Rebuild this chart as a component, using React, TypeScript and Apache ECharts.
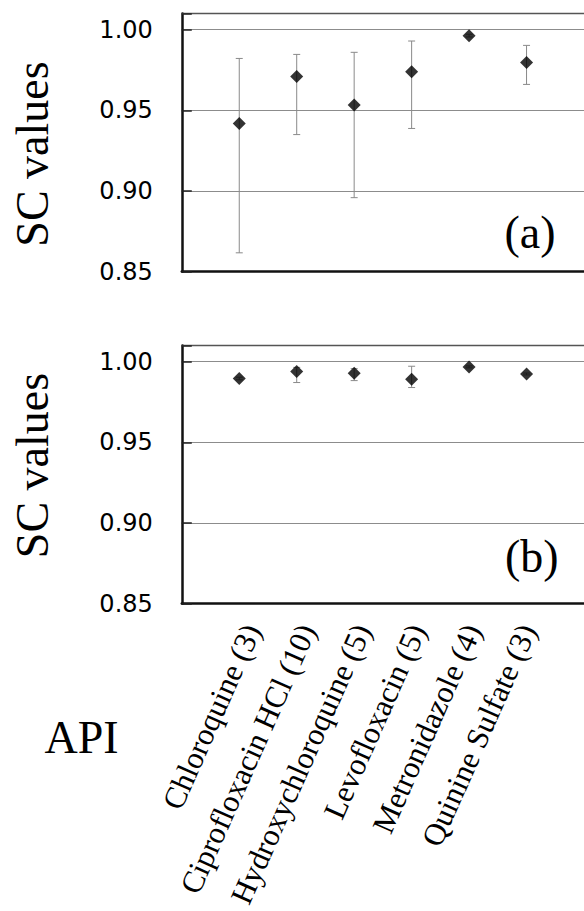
import React, { useEffect, useRef } from "react";
import * as echarts from "echarts";

const categories = [
  "Chloroquine (3)",
  "Ciprofloxacin HCl (10)",
  "Hydroxychloroquine (5)",
  "Levofloxacin (5)",
  "Metronidazole (4)",
  "Quinine Sulfate (3)",
];
const positions = [1, 2, 3, 4, 5, 6];

const scA = [0.9419, 0.971, 0.9534, 0.9739, 0.9963, 0.9797];
const lowA = [0.8617, 0.935, 0.8959, 0.9388, 0.9955, 0.9661];
const highA = [0.9822, 0.9847, 0.986, 0.993, 0.9972, 0.9903];

const scB = [0.9896, 0.9939, 0.9929, 0.9891, 0.9968, 0.9924];
const lowB = [0.9888, 0.9871, 0.9883, 0.984, 0.9962, 0.9918];
const highB = [0.9904, 0.9965, 0.9957, 0.9972, 0.9974, 0.993];

const yMin = 0.85;
const yMax = 1.01;
const yStep = 0.05;
const xMin = 0;
const xMax = 7;

const SERIF = "Liberation Serif";
const SANS = "DejaVu Sans";

function errorRender(params: any, api: any) {
  const x = api.value(0);
  const lo = api.coord([x, api.value(1)]);
  const hi = api.coord([x, api.value(2)]);
  const cw = 3.5;
  const style = { stroke: "#8a8a8a", lineWidth: 1 };
  return {
    type: "group",
    children: [
      { type: "line", shape: { x1: lo[0], y1: lo[1], x2: hi[0], y2: hi[1] }, style },
      { type: "line", shape: { x1: lo[0] - cw, y1: lo[1], x2: lo[0] + cw, y2: lo[1] }, style },
      { type: "line", shape: { x1: hi[0] - cw, y1: hi[1], x2: hi[0] + cw, y2: hi[1] }, style },
    ],
  };
}

export default function App() {
  const ref = useRef<HTMLDivElement>(null);
  useEffect(() => {
    if (!ref.current) return;
    const chart = echarts.init(ref.current, null, { renderer: "svg" });

    const gridA = { left: 181.8, top: 13.6, width: 408.1, height: 258.1 };
    const gridB = { left: 181.8, top: 345.6, width: 408.1, height: 258.1 };
    const gridL = { left: 197, top: 345.6, width: 399, height: 258.1 };

    const bottomAxis = (gi: number) => ({
      type: "value",
      gridIndex: gi,
      position: "bottom",
      min: xMin,
      max: xMax,
      interval: 1,
      axisLine: { show: true, onZero: false, lineStyle: { color: "#111", width: 2.5 } },
      axisTick: { show: false },
      axisLabel: { show: false },
      splitLine: { show: false },
    });
    const topAxis = (gi: number) => ({
      type: "value",
      gridIndex: gi,
      position: "top",
      min: xMin,
      max: xMax,
      interval: 1,
      axisLine: { show: true, onZero: false, lineStyle: { color: "#555", width: 1.3 } },
      axisTick: { show: false },
      axisLabel: { show: false },
      splitLine: { show: false },
    });
    const yAxis = (gi: number) => ({
      type: "value",
      gridIndex: gi,
      min: yMin,
      max: yMax,
      interval: yStep,
      axisLine: { show: true, onZero: false, lineStyle: { color: "#111", width: 2.5 } },
      axisTick: { show: true, inside: true, length: 10, lineStyle: { color: "#222", width: 1.5 } },
      axisLabel: {
        margin: 29,
        fontFamily: SANS,
        fontSize: 24,
        color: "#000",
        formatter: (v: number) => (v > 1.005 ? "" : v.toFixed(2)),
      },
      splitLine: { show: true, lineStyle: { color: "#8c8c8c", width: 1 } },
    });

    const textStyle = (text: string) => ({
      text,
      fontFamily: SERIF,
      fontSize: 46,
      fill: "#000",
      textAlign: "center",
      textVerticalAlign: "middle",
    });

    const option: any = {
      animation: false,
      backgroundColor: "#fff",
      grid: [gridA, gridB, gridL],
      xAxis: [
        bottomAxis(0),
        topAxis(0),
        bottomAxis(1),
        topAxis(1),
        {
          type: "value",
          gridIndex: 2,
          position: "bottom",
          min: xMin,
          max: xMax,
          interval: 1,
          axisLine: { show: false },
          axisTick: { show: false },
          splitLine: { show: false },
          axisLabel: {
            rotate: 66,
            margin: 23,
            fontFamily: SERIF,
            fontSize: 31,
            color: "#000",
            formatter: (v: number) => {
              const i = positions.indexOf(Math.round(v));
              return i >= 0 && Math.abs(v - positions[i]) < 1e-6 ? categories[i] : "";
            },
          },
        },
      ],
      yAxis: [
        yAxis(0),
        yAxis(1),
        { type: "value", gridIndex: 2, show: false, min: 0, max: 1 },
      ],
      series: [
        {
          type: "custom",
          xAxisIndex: 0,
          yAxisIndex: 0,
          renderItem: errorRender,
          data: positions.map((p, i) => [p, lowA[i], highA[i]]),
          z: 2,
        },
        {
          type: "scatter",
          xAxisIndex: 0,
          yAxisIndex: 0,
          symbol: "diamond",
          symbolSize: 13,
          itemStyle: { color: "#000" },
          data: positions.map((p, i) => [p, scA[i]]),
          z: 3,
        },
        {
          type: "custom",
          xAxisIndex: 2,
          yAxisIndex: 1,
          renderItem: errorRender,
          data: positions.map((p, i) => [p, lowB[i], highB[i]]),
          z: 2,
        },
        {
          type: "scatter",
          xAxisIndex: 2,
          yAxisIndex: 1,
          symbol: "diamond",
          symbolSize: 13,
          itemStyle: { color: "#000" },
          data: positions.map((p, i) => [p, scB[i]]),
          z: 3,
        },
      ],
      graphic: [
        { type: "text", x: 32.6, y: 154, rotation: Math.PI / 2, style: textStyle("SC values") },
        { type: "text", x: 32.6, y: 465.5, rotation: Math.PI / 2, style: textStyle("SC values") },
        { type: "text", x: 81.5, y: 737.5, style: textStyle("API") },
        { type: "text", x: 530, y: 232.5, style: textStyle("(a)") },
        { type: "text", x: 531.7, y: 556, style: textStyle("(b)") },
      ],
    };
    chart.setOption(option);
    return () => chart.dispose();
  }, []);
  return (
    <div
      ref={ref}
      style={{ position: "fixed", left: 0, top: 0, width: 584, height: 911, background: "#fff" }}
    />
  );
}
